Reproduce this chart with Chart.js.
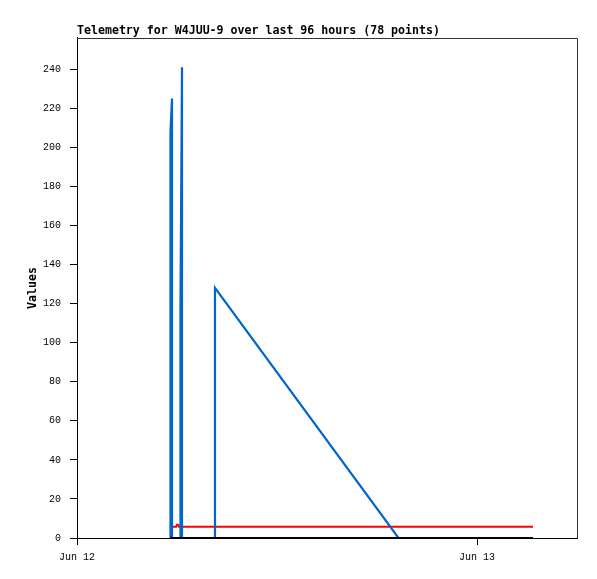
<!DOCTYPE html>
<html lang="en">
<head>
    <meta charset="UTF-8">
    <title>Telemetry for W4JUU-9</title>
    <script src="https://cdn.jsdelivr.net/npm/chart.js"></script>
    <style>
      body {
          margin: 0;
          padding: 0;
          background: #ffffff;
      }
      #telemetryChart {
          display: block;
      }
    </style>
</head>
<body>
    <canvas id="telemetryChart" width="597" height="579"></canvas>
    <script>
    // hours since Jun 12 00:00
    const blueHours = [5.61, 5.61, 5.70, 5.70, 6.21, 6.21, 6.30, 6.30, 8.28, 8.28, 19.29, 27.36];
    const blueValues = [0, 208, 225, 0, 0, 121, 241, 0, 0, 128, 0, 0];

    const redHours = [5.74, 5.95, 6.00, 6.06, 6.12, 27.36];
    const redValues = [5.8, 5.8, 6.8, 6.8, 5.8, 5.8];

    const blackHours = [5.58, 27.36];
    const blackValues = [0, 0];

    const xTickValues = [0, 24];
    const xTickLabels = ["Jun 12", "Jun 13"];

    function toPoints(xs, ys) {
        return xs.map((x, i) => ({ x: x, y: ys[i] }));
    }

    const frame = {
        id: "frame",
        beforeDatasetsDraw(chart) {
            const { ctx, chartArea } = chart;
            ctx.save();
            ctx.strokeStyle = "#333333";
            ctx.lineWidth = 1;
            ctx.beginPath();
            ctx.moveTo(chartArea.left, Math.round(chartArea.top) + 0.5);
            ctx.lineTo(Math.round(chartArea.right) + 0.5, Math.round(chartArea.top) + 0.5);
            ctx.lineTo(Math.round(chartArea.right) + 0.5, chartArea.bottom);
            ctx.stroke();
            ctx.restore();
        }
    };

    const ctx = document.getElementById("telemetryChart").getContext("2d");
    new Chart(ctx, {
        type: "line",
        data: {
            datasets: [
                {
                    data: toPoints(blackHours, blackValues),
                    borderColor: "#000000",
                    borderWidth: 2,
                    order: 0
                },
                {
                    data: toPoints(blueHours, blueValues),
                    borderColor: "#0066cc",
                    borderWidth: 2.2,
                    order: 1
                },
                {
                    data: toPoints(redHours, redValues),
                    borderColor: "#ff0000",
                    borderWidth: 2,
                    order: 2
                }
            ]
        },
        options: {
            responsive: false,
            animation: false,
            elements: {
                point: { radius: 0, hoverRadius: 0 },
                line: { tension: 0, fill: false }
            },
            layout: {
                padding: { left: 0, right: 20, top: 0, bottom: 0 }
            },
            plugins: {
                legend: { display: false },
                tooltip: { enabled: false },
                title: {
                    display: true,
                    text: "Telemetry for W4JUU-9 over last 96 hours (78 points)",
                    align: "start",
                    fullSize: false,
                    color: "#000000",
                    font: { family: "DejaVu Sans Mono", size: 11.6, weight: "bold", lineHeight: 1.2 },
                    padding: { top: 24, bottom: 0 }
                }
            },
            scales: {
                x: {
                    type: "linear",
                    min: 0,
                    max: 30,
                    afterFit(axis) { axis.height = 41; },
                    afterBuildTicks(axis) {
                        axis.ticks = xTickValues.map(v => ({ value: v }));
                    },
                    ticks: {
                        color: "#000000",
                        font: { family: "Liberation Mono", size: 10 },
                        padding: 6,
                        maxRotation: 0,
                        autoSkip: false,
                        callback(value) {
                            const i = xTickValues.indexOf(value);
                            return i >= 0 ? xTickLabels[i] : "";
                        }
                    },
                    grid: {
                        display: true,
                        drawOnChartArea: false,
                        drawTicks: true,
                        tickLength: 7,
                        color: "#000000"
                    },
                    border: { display: true, color: "#000000", width: 1 }
                },
                y: {
                    min: 0,
                    max: 256,
                    afterFit(axis) { axis.width = 77; },
                    ticks: {
                        stepSize: 20,
                        includeBounds: false,
                        color: "#000000",
                        font: { family: "Liberation Mono", size: 10 },
                        padding: 9
                    },
                    grid: {
                        display: true,
                        drawOnChartArea: false,
                        drawTicks: true,
                        tickLength: 7,
                        color: "#000000"
                    },
                    border: { display: true, color: "#000000", width: 1 },
                    title: {
                        display: true,
                        text: "Values",
                        color: "#000000",
                        font: { family: "DejaVu Sans Mono", size: 11.6, weight: "bold", lineHeight: 1.2 },
                        padding: { top: 26, bottom: 0 }
                    }
                }
            }
        },
        plugins: [frame]
    });
    </script>
</body>
</html>
